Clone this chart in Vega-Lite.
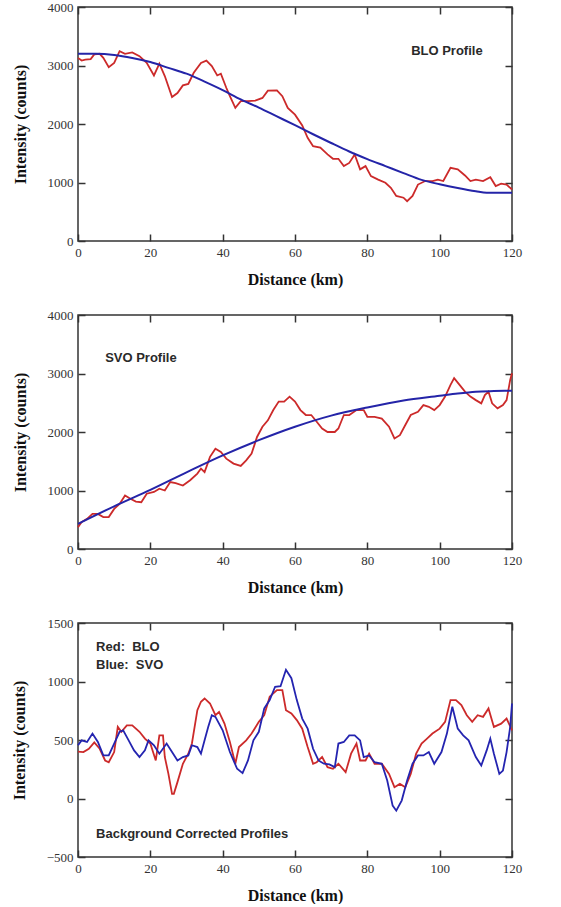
{
  "$schema": "https://vega.github.io/schema/vega-lite/v6.json",
  "padding": {"left": 10, "top": 0, "right": 10, "bottom": 0},
  "spacing": 20,
  "datasets": {
    "blo": [
      {"km":0,"counts":3130,"series":"Measured"},{"km":1,"counts":3084,"series":"Measured"},{"km":2,"counts":3100,"series":"Measured"},{"km":3.5,"counts":3110,"series":"Measured"},{"km":4.5,"counts":3190,"series":"Measured"},{"km":6,"counts":3200,"series":"Measured"},{"km":7,"counts":3130,"series":"Measured"},{"km":8.5,"counts":2970,"series":"Measured"},{"km":10,"counts":3045,"series":"Measured"},{"km":11.5,"counts":3245,"series":"Measured"},{"km":13,"counts":3200,"series":"Measured"},{"km":15,"counts":3225,"series":"Measured"},{"km":17,"counts":3160,"series":"Measured"},{"km":19,"counts":3045,"series":"Measured"},{"km":21,"counts":2830,"series":"Measured"},{"km":22.5,"counts":3030,"series":"Measured"},{"km":24,"counts":2820,"series":"Measured"},{"km":26,"counts":2460,"series":"Measured"},{"km":27.5,"counts":2530,"series":"Measured"},{"km":29,"counts":2660,"series":"Measured"},{"km":30.5,"counts":2685,"series":"Measured"},{"km":32,"counts":2875,"series":"Measured"},{"km":34,"counts":3045,"series":"Measured"},{"km":35.5,"counts":3084,"series":"Measured"},{"km":37,"counts":2990,"series":"Measured"},{"km":38.5,"counts":2830,"series":"Measured"},{"km":39.5,"counts":2860,"series":"Measured"},{"km":41,"counts":2620,"series":"Measured"},{"km":42,"counts":2475,"series":"Measured"},{"km":43.5,"counts":2275,"series":"Measured"},{"km":45,"counts":2390,"series":"Measured"},{"km":47,"counts":2390,"series":"Measured"},{"km":49,"counts":2400,"series":"Measured"},{"km":51,"counts":2445,"series":"Measured"},{"km":52.5,"counts":2570,"series":"Measured"},{"km":55,"counts":2575,"series":"Measured"},{"km":56.5,"counts":2475,"series":"Measured"},{"km":58,"counts":2275,"series":"Measured"},{"km":60,"counts":2160,"series":"Measured"},{"km":62,"counts":1975,"series":"Measured"},{"km":63.5,"counts":1765,"series":"Measured"},{"km":65,"counts":1620,"series":"Measured"},{"km":67,"counts":1595,"series":"Measured"},{"km":69,"counts":1480,"series":"Measured"},{"km":70.5,"counts":1405,"series":"Measured"},{"km":72,"counts":1405,"series":"Measured"},{"km":73.5,"counts":1280,"series":"Measured"},{"km":75,"counts":1335,"series":"Measured"},{"km":76.5,"counts":1480,"series":"Measured"},{"km":78,"counts":1225,"series":"Measured"},{"km":79.5,"counts":1280,"series":"Measured"},{"km":81,"counts":1110,"series":"Measured"},{"km":83,"counts":1050,"series":"Measured"},{"km":85,"counts":995,"series":"Measured"},{"km":86.5,"counts":910,"series":"Measured"},{"km":88,"counts":770,"series":"Measured"},{"km":90,"counts":740,"series":"Measured"},{"km":91,"counts":680,"series":"Measured"},{"km":92.5,"counts":770,"series":"Measured"},{"km":94,"counts":965,"series":"Measured"},{"km":96,"counts":1025,"series":"Measured"},{"km":98,"counts":1025,"series":"Measured"},{"km":99.5,"counts":1050,"series":"Measured"},{"km":101,"counts":1025,"series":"Measured"},{"km":103,"counts":1250,"series":"Measured"},{"km":105,"counts":1225,"series":"Measured"},{"km":107,"counts":1120,"series":"Measured"},{"km":108.5,"counts":1025,"series":"Measured"},{"km":110,"counts":1050,"series":"Measured"},{"km":112,"counts":1025,"series":"Measured"},{"km":114,"counts":1090,"series":"Measured"},{"km":115.5,"counts":940,"series":"Measured"},{"km":117,"counts":980,"series":"Measured"},{"km":118.5,"counts":965,"series":"Measured"},{"km":120,"counts":880,"series":"Measured"},
      {"km":0,"counts":3200,"series":"Fit"},{"km":5,"counts":3200,"series":"Fit"},{"km":10,"counts":3180,"series":"Fit"},{"km":15,"counts":3130,"series":"Fit"},{"km":20,"counts":3060,"series":"Fit"},{"km":25,"counts":2960,"series":"Fit"},{"km":30,"counts":2860,"series":"Fit"},{"km":35,"counts":2725,"series":"Fit"},{"km":40,"counts":2580,"series":"Fit"},{"km":45,"counts":2420,"series":"Fit"},{"km":50,"counts":2280,"series":"Fit"},{"km":55,"counts":2130,"series":"Fit"},{"km":60,"counts":1980,"series":"Fit"},{"km":65,"counts":1825,"series":"Fit"},{"km":70,"counts":1675,"series":"Fit"},{"km":75,"counts":1530,"series":"Fit"},{"km":80,"counts":1400,"series":"Fit"},{"km":85,"counts":1280,"series":"Fit"},{"km":90,"counts":1160,"series":"Fit"},{"km":95,"counts":1045,"series":"Fit"},{"km":100,"counts":970,"series":"Fit"},{"km":105,"counts":905,"series":"Fit"},{"km":110,"counts":850,"series":"Fit"},{"km":113,"counts":825,"series":"Fit"},{"km":120,"counts":825,"series":"Fit"}
    ],
    "svo": [
      {"km":0,"counts":370,"series":"Measured"},{"km":1,"counts":460,"series":"Measured"},{"km":2.5,"counts":515,"series":"Measured"},{"km":4,"counts":600,"series":"Measured"},{"km":5.5,"counts":600,"series":"Measured"},{"km":7,"counts":545,"series":"Measured"},{"km":8.5,"counts":545,"series":"Measured"},{"km":10,"counts":685,"series":"Measured"},{"km":11.5,"counts":770,"series":"Measured"},{"km":13,"counts":915,"series":"Measured"},{"km":14.5,"counts":860,"series":"Measured"},{"km":16,"counts":810,"series":"Measured"},{"km":17.5,"counts":800,"series":"Measured"},{"km":19,"counts":945,"series":"Measured"},{"km":21,"counts":975,"series":"Measured"},{"km":22.5,"counts":1030,"series":"Measured"},{"km":24,"counts":1000,"series":"Measured"},{"km":25.5,"counts":1145,"series":"Measured"},{"km":27,"counts":1125,"series":"Measured"},{"km":29,"counts":1085,"series":"Measured"},{"km":31,"counts":1175,"series":"Measured"},{"km":33,"counts":1290,"series":"Measured"},{"km":34,"counts":1375,"series":"Measured"},{"km":35,"counts":1315,"series":"Measured"},{"km":36.5,"counts":1575,"series":"Measured"},{"km":38,"counts":1715,"series":"Measured"},{"km":39.5,"counts":1660,"series":"Measured"},{"km":41,"counts":1545,"series":"Measured"},{"km":43,"counts":1460,"series":"Measured"},{"km":45,"counts":1420,"series":"Measured"},{"km":46.5,"counts":1515,"series":"Measured"},{"km":48,"counts":1630,"series":"Measured"},{"km":49.5,"counts":1915,"series":"Measured"},{"km":51,"counts":2090,"series":"Measured"},{"km":52.5,"counts":2200,"series":"Measured"},{"km":54,"counts":2375,"series":"Measured"},{"km":55.5,"counts":2520,"series":"Measured"},{"km":57,"counts":2520,"series":"Measured"},{"km":58.5,"counts":2605,"series":"Measured"},{"km":60,"counts":2520,"series":"Measured"},{"km":61.5,"counts":2375,"series":"Measured"},{"km":63,"counts":2290,"series":"Measured"},{"km":64.5,"counts":2290,"series":"Measured"},{"km":66,"counts":2175,"series":"Measured"},{"km":67.5,"counts":2060,"series":"Measured"},{"km":69,"counts":2000,"series":"Measured"},{"km":71,"counts":2000,"series":"Measured"},{"km":72,"counts":2060,"series":"Measured"},{"km":73.5,"counts":2290,"series":"Measured"},{"km":75,"counts":2290,"series":"Measured"},{"km":77,"counts":2375,"series":"Measured"},{"km":79,"counts":2375,"series":"Measured"},{"km":80,"counts":2260,"series":"Measured"},{"km":82,"counts":2260,"series":"Measured"},{"km":84,"counts":2230,"series":"Measured"},{"km":86,"counts":2090,"series":"Measured"},{"km":87.5,"counts":1890,"series":"Measured"},{"km":89,"counts":1945,"series":"Measured"},{"km":90.5,"counts":2120,"series":"Measured"},{"km":92,"counts":2290,"series":"Measured"},{"km":94,"counts":2345,"series":"Measured"},{"km":95.5,"counts":2460,"series":"Measured"},{"km":97,"counts":2430,"series":"Measured"},{"km":98.5,"counts":2375,"series":"Measured"},{"km":100,"counts":2460,"series":"Measured"},{"km":101.5,"counts":2605,"series":"Measured"},{"km":103,"counts":2805,"series":"Measured"},{"km":104,"counts":2920,"series":"Measured"},{"km":105.5,"counts":2805,"series":"Measured"},{"km":107,"counts":2690,"series":"Measured"},{"km":108.5,"counts":2605,"series":"Measured"},{"km":110,"counts":2545,"series":"Measured"},{"km":111.5,"counts":2490,"series":"Measured"},{"km":112.5,"counts":2630,"series":"Measured"},{"km":113.5,"counts":2690,"series":"Measured"},{"km":114.5,"counts":2490,"series":"Measured"},{"km":116,"counts":2405,"series":"Measured"},{"km":117.5,"counts":2460,"series":"Measured"},{"km":118.5,"counts":2545,"series":"Measured"},{"km":119.5,"counts":2890,"series":"Measured"},{"km":120,"counts":3005,"series":"Measured"},
      {"km":0,"counts":430,"series":"Fit"},{"km":10,"counts":730,"series":"Fit"},{"km":20,"counts":1010,"series":"Fit"},{"km":30,"counts":1310,"series":"Fit"},{"km":40,"counts":1600,"series":"Fit"},{"km":50,"counts":1860,"series":"Fit"},{"km":60,"counts":2090,"series":"Fit"},{"km":70,"counts":2280,"series":"Fit"},{"km":80,"counts":2420,"series":"Fit"},{"km":90,"counts":2540,"series":"Fit"},{"km":100,"counts":2620,"series":"Fit"},{"km":105,"counts":2660,"series":"Fit"},{"km":110,"counts":2690,"series":"Fit"},{"km":115,"counts":2700,"series":"Fit"},{"km":120,"counts":2705,"series":"Fit"}
    ],
    "corrected": [
      {"km":0,"counts":400,"series":"BLO"},{"km":1.5,"counts":397,"series":"BLO"},{"km":3,"counts":425,"series":"BLO"},{"km":4.5,"counts":480,"series":"BLO"},{"km":6,"counts":425,"series":"BLO"},{"km":7.5,"counts":325,"series":"BLO"},{"km":8.5,"counts":310,"series":"BLO"},{"km":10,"counts":397,"series":"BLO"},{"km":11,"counts":612,"series":"BLO"},{"km":12,"counts":570,"series":"BLO"},{"km":13.5,"counts":625,"series":"BLO"},{"km":15,"counts":625,"series":"BLO"},{"km":17,"counts":570,"series":"BLO"},{"km":18.5,"counts":512,"series":"BLO"},{"km":20,"counts":470,"series":"BLO"},{"km":21.5,"counts":325,"series":"BLO"},{"km":22.5,"counts":540,"series":"BLO"},{"km":23.5,"counts":540,"series":"BLO"},{"km":24,"counts":355,"series":"BLO"},{"km":25,"counts":210,"series":"BLO"},{"km":26,"counts":40,"series":"BLO"},{"km":26.5,"counts":40,"series":"BLO"},{"km":27.5,"counts":140,"series":"BLO"},{"km":29,"counts":297,"series":"BLO"},{"km":30.5,"counts":383,"series":"BLO"},{"km":31.5,"counts":470,"series":"BLO"},{"km":33,"counts":755,"series":"BLO"},{"km":34,"counts":827,"series":"BLO"},{"km":35,"counts":855,"series":"BLO"},{"km":36.5,"counts":812,"series":"BLO"},{"km":38,"counts":712,"series":"BLO"},{"km":39,"counts":740,"series":"BLO"},{"km":40.5,"counts":640,"series":"BLO"},{"km":42,"counts":483,"series":"BLO"},{"km":43.5,"counts":297,"series":"BLO"},{"km":44.5,"counts":440,"series":"BLO"},{"km":46.5,"counts":497,"series":"BLO"},{"km":48,"counts":555,"series":"BLO"},{"km":50,"counts":655,"series":"BLO"},{"km":51.5,"counts":712,"series":"BLO"},{"km":53,"counts":870,"series":"BLO"},{"km":55,"counts":927,"series":"BLO"},{"km":56.5,"counts":927,"series":"BLO"},{"km":57.5,"counts":755,"series":"BLO"},{"km":59,"counts":727,"series":"BLO"},{"km":60.5,"counts":670,"series":"BLO"},{"km":62,"counts":597,"series":"BLO"},{"km":63.5,"counts":440,"series":"BLO"},{"km":65,"counts":297,"series":"BLO"},{"km":66,"counts":310,"series":"BLO"},{"km":67.5,"counts":355,"series":"BLO"},{"km":69,"counts":268,"series":"BLO"},{"km":70.5,"counts":254,"series":"BLO"},{"km":72,"counts":297,"series":"BLO"},{"km":74,"counts":225,"series":"BLO"},{"km":75.5,"counts":383,"series":"BLO"},{"km":77,"counts":470,"series":"BLO"},{"km":78,"counts":325,"series":"BLO"},{"km":79.5,"counts":325,"series":"BLO"},{"km":80.5,"counts":383,"series":"BLO"},{"km":82,"counts":297,"series":"BLO"},{"km":84,"counts":297,"series":"BLO"},{"km":86,"counts":210,"series":"BLO"},{"km":87.5,"counts":97,"series":"BLO"},{"km":89,"counts":125,"series":"BLO"},{"km":90.5,"counts":97,"series":"BLO"},{"km":92,"counts":210,"series":"BLO"},{"km":93.5,"counts":383,"series":"BLO"},{"km":95,"counts":470,"series":"BLO"},{"km":96.5,"counts":512,"series":"BLO"},{"km":98,"counts":555,"series":"BLO"},{"km":100,"counts":597,"series":"BLO"},{"km":101.5,"counts":655,"series":"BLO"},{"km":103,"counts":841,"series":"BLO"},{"km":104.5,"counts":841,"series":"BLO"},{"km":106,"counts":798,"series":"BLO"},{"km":107.5,"counts":712,"series":"BLO"},{"km":109,"counts":655,"series":"BLO"},{"km":110.5,"counts":712,"series":"BLO"},{"km":112,"counts":698,"series":"BLO"},{"km":113.5,"counts":770,"series":"BLO"},{"km":115,"counts":612,"series":"BLO"},{"km":117,"counts":640,"series":"BLO"},{"km":118.5,"counts":683,"series":"BLO"},{"km":120,"counts":583,"series":"BLO"},
      {"km":0,"counts":455,"series":"SVO"},{"km":1,"counts":497,"series":"SVO"},{"km":2.5,"counts":483,"series":"SVO"},{"km":4,"counts":555,"series":"SVO"},{"km":5.5,"counts":483,"series":"SVO"},{"km":7,"counts":368,"series":"SVO"},{"km":8.5,"counts":368,"series":"SVO"},{"km":10,"counts":470,"series":"SVO"},{"km":11.5,"counts":570,"series":"SVO"},{"km":12.5,"counts":583,"series":"SVO"},{"km":14,"counts":497,"series":"SVO"},{"km":15.5,"counts":411,"series":"SVO"},{"km":17,"counts":354,"series":"SVO"},{"km":18.5,"counts":411,"series":"SVO"},{"km":19.5,"counts":497,"series":"SVO"},{"km":21,"counts":455,"series":"SVO"},{"km":22.5,"counts":383,"series":"SVO"},{"km":24.5,"counts":470,"series":"SVO"},{"km":26,"counts":397,"series":"SVO"},{"km":27.5,"counts":325,"series":"SVO"},{"km":29,"counts":354,"series":"SVO"},{"km":30.5,"counts":368,"series":"SVO"},{"km":31.5,"counts":455,"series":"SVO"},{"km":33,"counts":440,"series":"SVO"},{"km":34,"counts":383,"series":"SVO"},{"km":35,"counts":497,"series":"SVO"},{"km":36,"counts":612,"series":"SVO"},{"km":37,"counts":712,"series":"SVO"},{"km":38,"counts":698,"series":"SVO"},{"km":40,"counts":583,"series":"SVO"},{"km":42,"counts":397,"series":"SVO"},{"km":44,"counts":254,"series":"SVO"},{"km":45.5,"counts":217,"series":"SVO"},{"km":47,"counts":325,"series":"SVO"},{"km":48.5,"counts":497,"series":"SVO"},{"km":50,"counts":570,"series":"SVO"},{"km":51.5,"counts":770,"series":"SVO"},{"km":53,"counts":841,"series":"SVO"},{"km":54.5,"counts":955,"series":"SVO"},{"km":56,"counts":960,"series":"SVO"},{"km":57.5,"counts":1100,"series":"SVO"},{"km":59,"counts":1028,"series":"SVO"},{"km":60.5,"counts":841,"series":"SVO"},{"km":62,"counts":683,"series":"SVO"},{"km":63.5,"counts":597,"series":"SVO"},{"km":65,"counts":425,"series":"SVO"},{"km":66.5,"counts":325,"series":"SVO"},{"km":68,"counts":297,"series":"SVO"},{"km":69.5,"counts":291,"series":"SVO"},{"km":71,"counts":268,"series":"SVO"},{"km":72,"counts":470,"series":"SVO"},{"km":73.5,"counts":483,"series":"SVO"},{"km":75,"counts":540,"series":"SVO"},{"km":76.5,"counts":540,"series":"SVO"},{"km":78,"counts":497,"series":"SVO"},{"km":79,"counts":354,"series":"SVO"},{"km":80.5,"counts":368,"series":"SVO"},{"km":82,"counts":310,"series":"SVO"},{"km":84,"counts":297,"series":"SVO"},{"km":85.5,"counts":154,"series":"SVO"},{"km":87,"counts":-61,"series":"SVO"},{"km":88,"counts":-104,"series":"SVO"},{"km":89.5,"counts":-18,"series":"SVO"},{"km":91,"counts":154,"series":"SVO"},{"km":92.5,"counts":297,"series":"SVO"},{"km":94,"counts":368,"series":"SVO"},{"km":95.5,"counts":368,"series":"SVO"},{"km":97,"counts":397,"series":"SVO"},{"km":98.5,"counts":297,"series":"SVO"},{"km":100.5,"counts":397,"series":"SVO"},{"km":102,"counts":555,"series":"SVO"},{"km":103.5,"counts":784,"series":"SVO"},{"km":105,"counts":597,"series":"SVO"},{"km":106.5,"counts":540,"series":"SVO"},{"km":108,"counts":497,"series":"SVO"},{"km":110,"counts":354,"series":"SVO"},{"km":111.5,"counts":282,"series":"SVO"},{"km":113,"counts":411,"series":"SVO"},{"km":114,"counts":512,"series":"SVO"},{"km":115,"counts":383,"series":"SVO"},{"km":116.5,"counts":210,"series":"SVO"},{"km":117.5,"counts":239,"series":"SVO"},{"km":118.5,"counts":397,"series":"SVO"},{"km":119.5,"counts":612,"series":"SVO"},{"km":120,"counts":812,"series":"SVO"}
    ]
  },
  "vconcat": [
    {
      "width": 434, "height": 234,
      "layer": [
        {
          "data": {"name": "blo"},
          "transform": [{"filter": "datum.series === 'Measured'"}],
          "mark": {"type": "line", "color": "#cc2a2a", "strokeWidth": 1.8},
          "encoding": {
            "x": {"field": "km", "type": "quantitative", "scale": {"domain": [0, 120], "nice": false}, "axis": {"orient": "bottom", "values": [0,20,40,60,80,100,120], "title": "Distance (km)"}},
            "y": {"field": "counts", "type": "quantitative", "scale": {"domain": [0, 4000], "nice": false}, "axis": {"orient": "left", "values": [0,1000,2000,3000,4000], "format": "d", "title": "Intensity (counts)"}}
          }
        },
        {
          "data": {"name": "blo"},
          "transform": [{"filter": "datum.series === 'Fit'"}],
          "mark": {"type": "line", "color": "#2424a8", "strokeWidth": 2, "interpolate": "monotone"},
          "encoding": {
            "x": {"field": "km", "type": "quantitative", "scale": {"domain": [0, 120], "nice": false}, "axis": {"orient": "top", "values": [0,20,40,60,80,100,120], "labels": false, "title": null}},
            "y": {"field": "counts", "type": "quantitative", "scale": {"domain": [0, 4000], "nice": false}, "axis": {"orient": "right", "values": [0,1000,2000,3000,4000], "labels": false, "title": null}}
          }
        },
        {
          "data": {"values": [{"km": 102, "counts": 3250, "label": "BLO Profile"}]},
          "mark": {"type": "text", "align": "center", "baseline": "middle", "font": "Liberation Sans", "fontWeight": "bold", "fontSize": 13, "color": "#2a2a2a"},
          "encoding": {
            "x": {"field": "km", "type": "quantitative", "axis": null},
            "y": {"field": "counts", "type": "quantitative", "axis": null},
            "text": {"field": "label"}
          }
        }
      ],
      "resolve": {"axis": {"x": "independent", "y": "independent"}}
    },
    {
      "width": 434, "height": 234,
      "layer": [
        {
          "data": {"name": "svo"},
          "transform": [{"filter": "datum.series === 'Measured'"}],
          "mark": {"type": "line", "color": "#cc2a2a", "strokeWidth": 1.8},
          "encoding": {
            "x": {"field": "km", "type": "quantitative", "scale": {"domain": [0, 120], "nice": false}, "axis": {"orient": "bottom", "values": [0,20,40,60,80,100,120], "title": "Distance (km)"}},
            "y": {"field": "counts", "type": "quantitative", "scale": {"domain": [0, 4000], "nice": false}, "axis": {"orient": "left", "values": [0,1000,2000,3000,4000], "format": "d", "title": "Intensity (counts)"}}
          }
        },
        {
          "data": {"name": "svo"},
          "transform": [{"filter": "datum.series === 'Fit'"}],
          "mark": {"type": "line", "color": "#2424a8", "strokeWidth": 2, "interpolate": "monotone"},
          "encoding": {
            "x": {"field": "km", "type": "quantitative", "scale": {"domain": [0, 120], "nice": false}, "axis": {"orient": "top", "values": [0,20,40,60,80,100,120], "labels": false, "title": null}},
            "y": {"field": "counts", "type": "quantitative", "scale": {"domain": [0, 4000], "nice": false}, "axis": {"orient": "right", "values": [0,1000,2000,3000,4000], "labels": false, "title": null}}
          }
        },
        {
          "data": {"values": [{"km": 7.5, "counts": 3260, "label": "SVO Profile"}]},
          "mark": {"type": "text", "align": "left", "baseline": "middle", "font": "Liberation Sans", "fontWeight": "bold", "fontSize": 13, "color": "#2a2a2a"},
          "encoding": {
            "x": {"field": "km", "type": "quantitative", "axis": null},
            "y": {"field": "counts", "type": "quantitative", "axis": null},
            "text": {"field": "label"}
          }
        }
      ],
      "resolve": {"axis": {"x": "independent", "y": "independent"}}
    },
    {
      "width": 434, "height": 234,
      "layer": [
        {
          "data": {"name": "corrected"},
          "transform": [{"filter": "datum.series === 'BLO'"}],
          "mark": {"type": "line", "color": "#cc2a2a", "strokeWidth": 1.8},
          "encoding": {
            "x": {"field": "km", "type": "quantitative", "scale": {"domain": [0, 120], "nice": false}, "axis": {"orient": "bottom", "values": [0,20,40,60,80,100,120], "title": "Distance (km)"}},
            "y": {"field": "counts", "type": "quantitative", "scale": {"domain": [-500, 1500], "nice": false}, "axis": {"orient": "left", "values": [-500,0,500,1000,1500], "format": "d", "title": "Intensity (counts)"}}
          }
        },
        {
          "data": {"name": "corrected"},
          "transform": [{"filter": "datum.series === 'SVO'"}],
          "mark": {"type": "line", "color": "#2424b0", "strokeWidth": 1.8},
          "encoding": {
            "x": {"field": "km", "type": "quantitative", "scale": {"domain": [0, 120], "nice": false}, "axis": {"orient": "top", "values": [0,20,40,60,80,100,120], "labels": false, "title": null}},
            "y": {"field": "counts", "type": "quantitative", "scale": {"domain": [-500, 1500], "nice": false}, "axis": {"orient": "right", "values": [-500,0,500,1000,1500], "labels": false, "title": null}}
          }
        },
        {
          "data": {"values": [
            {"km": 5, "counts": 1294, "label": "Red:\u00a0 BLO"},
            {"km": 5, "counts": 1140, "label": "Blue:\u00a0 SVO"},
            {"km": 5, "counts": -303, "label": "Background Corrected Profiles"}
          ]},
          "mark": {"type": "text", "align": "left", "baseline": "middle", "font": "Liberation Sans", "fontWeight": "bold", "fontSize": 13, "color": "#2a2a2a"},
          "encoding": {
            "x": {"field": "km", "type": "quantitative", "axis": null},
            "y": {"field": "counts", "type": "quantitative", "axis": null},
            "text": {"field": "label"}
          }
        }
      ],
      "resolve": {"axis": {"x": "independent", "y": "independent"}}
    }
  ],
  "config": {
    "view": {"stroke": "#333", "strokeWidth": 1.5},
    "axis": {
      "domain": false,
      "grid": false,
      "tickSize": -7,
      "tickColor": "#333",
      "tickWidth": 1.5,
      "labelFont": "Liberation Serif",
      "labelFontSize": 13,
      "labelColor": "#333",
      "labelPadding": 12,
      "labelFlush": false,
      "labelOverlap": false,
      "titleFont": "Liberation Serif",
      "titleFontSize": 16,
      "titleFontWeight": "bold",
      "titleColor": "#111"
    },
    "axisX": {"titlePadding": 12},
    "axisY": {"titlePadding": 19}
  }
}
